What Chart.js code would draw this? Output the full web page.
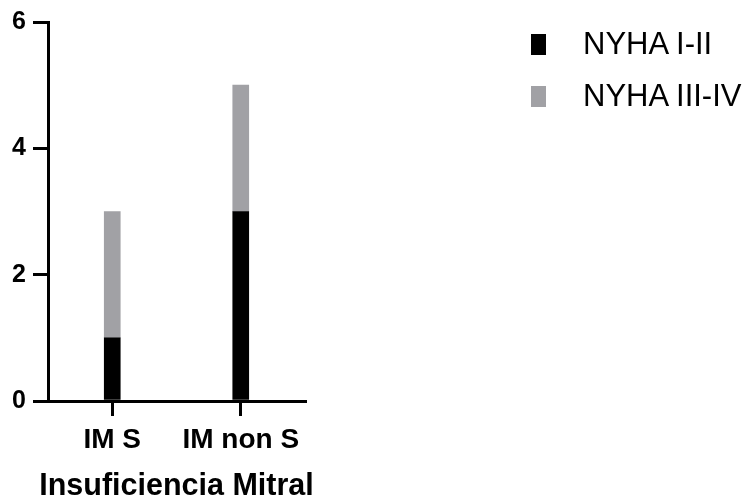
<!DOCTYPE html>
<html>
<head>
<meta charset="utf-8">
<script src="https://cdn.jsdelivr.net/npm/chart.js@4/dist/chart.umd.min.js"></script>
<style>
  html, body { margin: 0; padding: 0; background: #fff; }
  #wrap { position: relative; width: 751px; height: 502px; }
  #legend { position: absolute; left: 531px; top: 18px; font-family: "Liberation Sans", Arial, sans-serif; font-size: 31px; color: #000; }
  .li { position: relative; height: 52px; }
  .sw { position: absolute; left: 0; top: 16px; width: 15px; height: 21px; }
  .tx { position: absolute; left: 52px; top: 8px; line-height: 36px; white-space: nowrap; }
</style>
</head>
<body>
<div id="wrap">
  <canvas id="c" width="751" height="502"></canvas>
  <div id="legend"></div>
</div>
<script>
const categories = ["IM S", "IM non S"];
const seriesNames = ["NYHA I-II", "NYHA III-IV"];
const nyhaI_II = [1, 3];
const nyhaIII_IV = [2, 2];
const yTicks = [0, 2, 4, 6];
const xTitle = "Insuficiencia Mitral";

const FONT = "'Liberation Sans', Arial, sans-serif";
const colors = ["#000000", "#a1a1a5"];

// Axis title drawn centred under the x axis without Chart.js's width clamp
const xTitlePlugin = {
  id: 'xTitlePlugin',
  afterDraw(chart) {
    const { ctx, chartArea } = chart;
    ctx.save();
    ctx.font = "bold 30.5px " + FONT;
    ctx.fillStyle = '#000';
    ctx.textAlign = 'center';
    ctx.textBaseline = 'alphabetic';
    ctx.fillText(xTitle, (chartArea.left + chartArea.right) / 2, 495);
    ctx.restore();
  }
};

const chart = new Chart(document.getElementById('c'), {
  type: 'bar',
  data: {
    labels: categories,
    datasets: [
      { label: seriesNames[0], data: nyhaI_II, backgroundColor: colors[0], barThickness: 16, borderWidth: 0 },
      { label: seriesNames[1], data: nyhaIII_IV, backgroundColor: colors[1], barThickness: 16, borderWidth: 0 }
    ]
  },
  plugins: [xTitlePlugin],
  options: {
    responsive: false,
    animation: false,
    devicePixelRatio: 1,
    layout: { padding: { top: 18, right: 446, bottom: 0, left: 0 } },
    plugins: { legend: { display: false }, tooltip: { enabled: false } },
    scales: {
      x: {
        stacked: true,
        afterFit: s => { s.height = 101; },
        grid: { offset: false, drawOnChartArea: false, color: '#000', lineWidth: 3, tickLength: 15 },
        border: { color: '#000', width: 3 },
        ticks: { color: '#000', font: { family: FONT, size: 28, weight: 'bold' }, padding: 7, maxRotation: 0 },
        title: { display: false }
      },
      y: {
        stacked: true,
        min: 0, max: 6,
        afterFit: s => { s.width = 48; },
        afterBuildTicks: s => { s.ticks = yTicks.map(v => ({ value: v })); },
        grid: { drawOnChartArea: false, color: '#000', lineWidth: 3, tickLength: 15 },
        border: { color: '#000', width: 3 },
        ticks: { color: '#000', font: { family: FONT, size: 25, weight: 'bold' }, padding: 7 }
      }
    }
  }
});

const leg = document.getElementById('legend');
chart.data.datasets.forEach(ds => {
  const row = document.createElement('div'); row.className = 'li';
  const sw = document.createElement('div'); sw.className = 'sw'; sw.style.background = ds.backgroundColor;
  const tx = document.createElement('div'); tx.className = 'tx'; tx.textContent = ds.label;
  row.appendChild(sw); row.appendChild(tx); leg.appendChild(row);
});
</script>
</body>
</html>
